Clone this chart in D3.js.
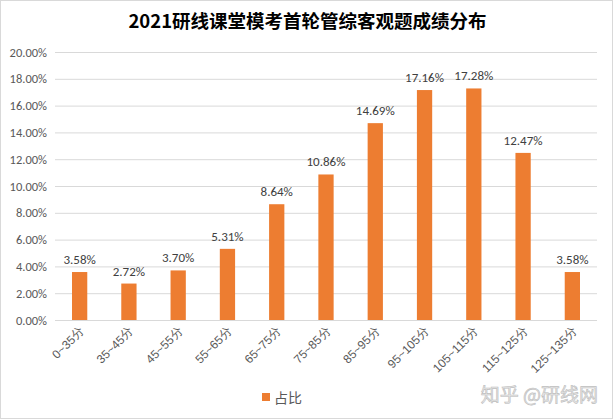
<!DOCTYPE html>
<html><head><meta charset="utf-8">
<script src="https://cdn.jsdelivr.net/npm/d3@7"></script>
<style>body{margin:0;background:#fff;}svg{display:block;font-family:Calibri,"Liberation Sans","Noto Sans CJK SC",sans-serif;}</style>
</head><body>
<svg id="c" width="613" height="419"></svg>
<script>
const categories = ["0~35分","35~45分","45~55分","55~65分","65~75分","75~85分","85~95分","95~105分","105~115分","115~125分","125~135分"];
const values = [3.58, 2.72, 3.70, 5.31, 8.64, 10.86, 14.69, 17.16, 17.28, 12.47, 3.58];
const yTicks = [0,2,4,6,8,10,12,14,16,18,20];
const seriesName = "占比";
const title = "2021研线课堂模考首轮管综客观题成绩分布";

const svg = d3.select("#c");
const W = 613, H = 419;
const m = {left:55, right:16, top:52, bottom:99};
svg.append("rect").attr("x",0.5).attr("y",0.5).attr("width",W-1).attr("height",H-1).attr("fill","#fff").attr("stroke","#d9d9d9");

const x = d3.scaleBand().domain(categories).range([m.left, W-m.right]).paddingInner(0.69).paddingOuter(0.345);
const y = d3.scaleLinear().domain([0,20]).range([H-m.bottom, m.top]);

// grid
svg.append("g").selectAll("line").data(yTicks).join("line")
  .attr("x1",m.left).attr("x2",W-m.right)
  .attr("y1",d=>y(d)+0.5).attr("y2",d=>y(d)+0.5)
  .attr("stroke","#d9d9d9").attr("stroke-width",1);

// y axis labels
const ya = svg.append("g").attr("transform",`translate(${m.left},0)`)
  .call(d3.axisLeft(y).tickValues(yTicks).tickSize(0).tickPadding(8).tickFormat(d=>d.toFixed(2)+"%"));
ya.select(".domain").remove();
ya.selectAll("text").attr("font-size","12.5px").attr("fill","#595959").attr("font-family","Calibri,'Liberation Sans',sans-serif");

// bars
svg.append("g").selectAll("rect").data(values).join("rect")
  .attr("x",(d,i)=>x(categories[i])).attr("width",x.bandwidth())
  .attr("y",d=>y(d)).attr("height",d=>y(0)-y(d))
  .attr("fill","#ed7d31");

// labels
svg.append("g").selectAll("text").data(values).join("text")
  .attr("x",(d,i)=>x(categories[i])+x.bandwidth()/2)
  .attr("y",d=>y(d)-8)
  .attr("text-anchor","middle").attr("font-size","13px").attr("fill","#404040")
  .text(d=>d.toFixed(2)+"%");

// x axis
const xa = svg.append("g").attr("transform",`translate(0,${y(0)})`)
  .call(d3.axisBottom(x).tickSize(0).tickPadding(0));
xa.select(".domain").remove();
xa.selectAll("text").attr("font-size","12px").attr("fill","#595959")
  .attr("text-anchor","end").attr("dy","0")
  .attr("transform","translate(5,12) rotate(-45)");

// title
svg.append("text").attr("x",W/2+1).attr("y",28).attr("text-anchor","middle")
  .attr("font-size","18.5px").attr("font-weight","bold").attr("fill","#000")
  .attr("font-family","'Noto Sans CJK SC',sans-serif").text(title);

// legend
const lg = svg.append("g").attr("transform","translate(262,393)");
lg.append("rect").attr("width",8).attr("height",8).attr("y",0).attr("fill","#ed7d31");
lg.append("text").attr("x",12).attr("y",10).attr("font-size","14px").attr("fill","#595959").text(seriesName);

// watermark
svg.append("text").attr("x",598).attr("y",402).attr("text-anchor","end")
  .attr("font-size","19px").attr("fill","#e6e6e6").attr("stroke","#bdbdbd").attr("stroke-width",0.6)
  .attr("font-family","'Noto Sans CJK SC',sans-serif").text("知乎 @研线网");
</script>
</body></html>
